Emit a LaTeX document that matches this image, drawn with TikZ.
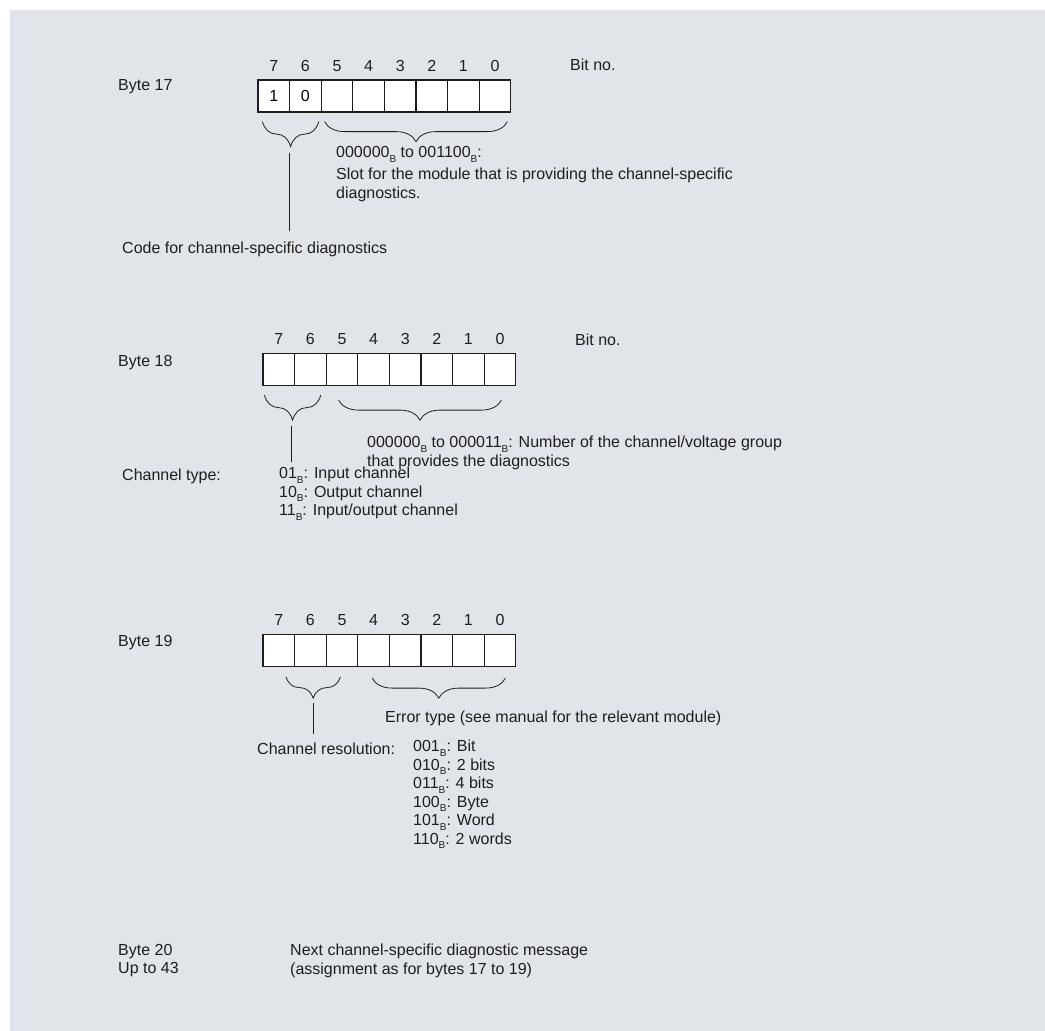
\documentclass[tikz,border=0pt]{standalone}
\usepackage{fontspec}
\setmainfont{Liberation Sans}
\usetikzlibrary{positioning,decorations.pathreplacing}
\definecolor{panelgray}{RGB}{225,229,233}
\definecolor{inkgray}{RGB}{30,30,30}
\newcommand{\subB}[1]{#1\raisebox{-0.55ex}{\fontsize{10}{10}\selectfont B}}
\tikzset{
  bitcell/.style={draw=inkgray,fill=white,line width=1.2pt,minimum width=31.6pt,minimum height=32pt,inner sep=0pt},
  bitnum/.style={inner sep=0pt,text=inkgray},
  txt/.style={anchor=west,inner sep=0pt,text=inkgray},
  txtml/.style={anchor=north west,inner sep=0pt,align=left,text=inkgray},
  bracedown/.style={decorate,decoration={brace,mirror,amplitude=#1},draw=inkgray,line width=0.8pt},
  lead/.style={draw=inkgray,line width=0.8pt},
}
\begin{document}
\begin{tikzpicture}[x=1pt,y=-1pt,font=\fontsize{16}{18.5}\selectfont]
\useasboundingbox (0,0) rectangle (1045,1031);
\fill[panelgray] (10,10) rectangle (1045,1031);

% Byte 17
\node[txt] (byte17) at (118,87) {Byte 17};
\foreach \b/\v [count=\k from 0] in {7/1,6/0,5/,4/,3/,2/,1/,0/}{
  \node[bitcell] (c17-\b) at ({258+31.6*(\k+0.5)},96) {\v};
  \node[bitnum,above=8pt of c17-\b] (n17-\b) {\b};
}
\node[txt] (bitno17) at (570,65) {Bit no.};
\draw[bracedown=25pt] ([xshift=5pt,yshift=-9pt]c17-7.south west) -- ([xshift=-3pt,yshift=-9pt]c17-6.south east);
\draw[bracedown=20pt] ([xshift=4pt,yshift=-9pt]c17-5.south west) -- ([xshift=-4pt,yshift=-9pt]c17-0.south east);
\node[txtml] (slot17) at (336,146) {\subB{000000} to \subB{001100}:\\[4pt]
  Slot for the module that is providing the channel-specific\\diagnostics.};
\node[txt] (code17) at (122,249) {Code for channel-specific diagnostics};
\coordinate (tip17) at (289,153);
\draw[lead,shorten >=10pt] (tip17) -- (tip17 |- code17.north);

% Byte 18
\node[txt] (byte18) at (118,363) {Byte 18};
\foreach \b [count=\k from 0] in {7,6,...,0}{
  \node[bitcell] (c18-\b) at ({263+31.6*(\k+0.5)},369.5) {};
  \node[bitnum,above=8pt of c18-\b] (n18-\b) {\b};
}
\node[txt] (bitno18) at (575,340) {Bit no.};
\draw[bracedown=25pt] ([xshift=2pt,yshift=-9pt]c18-7.south west) -- ([xshift=-6pt,yshift=-9pt]c18-6.south east);
\draw[bracedown=20pt] ([xshift=13pt,yshift=-14pt]c18-5.south west) -- ([xshift=-15pt,yshift=-14pt]c18-0.south east);
\node[txtml] (group18) at (367,436) {\subB{000000} to \subB{000011}: Number of the channel/voltage group\\
  that provides the diagnostics};
\node[txt] (type18) at (122,476) {Channel type:};
\node[txtml] (list18) at (279,467) {\subB{01}: Input channel\\\subB{10}: Output channel\\\subB{11}: Input/output channel};
\coordinate (tip18) at (291,426);
\draw[lead,shorten >=5pt] (tip18) -- (tip18 |- list18.north);

% Byte 19
\node[txt] (byte19) at (118,643) {Byte 19};
\foreach \b [count=\k from 0] in {7,6,...,0}{
  \node[bitcell] (c19-\b) at ({263+31.6*(\k+0.5)},650.5) {};
  \node[bitnum,above=8pt of c19-\b] (n19-\b) {\b};
}
\draw[bracedown=21pt] ([xshift=-8pt,yshift=-10pt]c19-6.south west) -- ([xshift=-18pt,yshift=-10pt]c19-5.south east);
\draw[bracedown=20pt] ([xshift=15pt,yshift=-11pt]c19-4.south west) -- ([xshift=-11pt,yshift=-11pt]c19-0.south east);
\node[txt] (error19) at (385,718) {Error type (see manual for the relevant module)};
\node[txt] (res19) at (257,749) {Channel resolution:};
\node[txtml] (list19) at (413,740) {\subB{001}: Bit\\\subB{010}: 2 bits\\\subB{011}: 4 bits\\
  \subB{100}: Byte\\\subB{101}: Word\\\subB{110}: 2 words};
\coordinate (tip19) at (313,703);
\draw[lead,shorten >=9pt] (tip19) -- (tip19 |- res19.north);

% Byte 20 .. 43
\node[txtml] (byte20) at (118,944) {Byte 20\\Up to 43};
\node[txtml] (next20) at (290,944) {Next channel-specific diagnostic message\\(assignment as for bytes 17 to 19)};
\end{tikzpicture}
\end{document}
